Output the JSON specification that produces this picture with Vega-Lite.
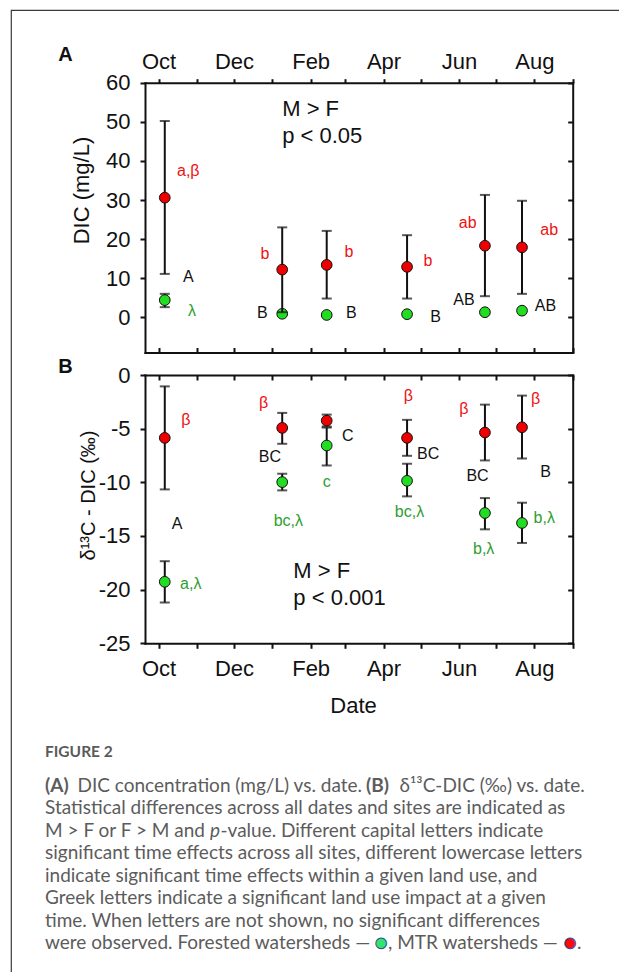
{
  "$schema": "https://vega.github.io/schema/vega-lite/v6.json",
  "width": 608,
  "height": 962,
  "autosize": {"type": "none"},
  "padding": {"left": 11, "top": 10, "right": 0, "bottom": 0},
  "background": "white",
  "view": {"stroke": "#3a3a3a", "strokeWidth": 1.2, "strokeDash": [608, 1570, 962], "fill": null},
  "config": {
    "view": {"stroke": "#3a3a3a", "strokeWidth": 1.2, "strokeDash": [608, 1570, 962]},
    "axis": {
      "grid": false,
      "labelFont": "Liberation Sans",
      "titleFont": "Liberation Sans",
      "labelColor": "#111",
      "titleColor": "#111",
      "domainColor": "#111",
      "tickColor": "#111",
      "domainWidth": 2,
      "tickWidth": 2,
      "domainCap": "square",
      "labelOverlap": false,
      "labelFlush": false,
      "labelBound": false,
      "labelFontSize": 22,
      "titleFontSize": 22,
      "titleFontWeight": "normal"
    },
    "text": {"font": "Liberation Sans"}
  },
  "datasets": {
    "dic": [
      {"date": "2013-10-06", "site": "MTR", "mean": 30.6, "lo": 11.1, "hi": 50.2},
      {"date": "2013-10-06", "site": "Forested", "mean": 4.4, "lo": 2.6, "hi": 6.0},
      {"date": "2014-01-09", "site": "MTR", "mean": 12.2, "lo": 1.3, "hi": 23.0},
      {"date": "2014-01-09", "site": "Forested", "mean": 0.9, "lo": 0.6, "hi": 1.2},
      {"date": "2014-02-14", "site": "MTR", "mean": 13.4, "lo": 4.8, "hi": 22.1},
      {"date": "2014-02-14", "site": "Forested", "mean": 0.6, "lo": 0.3, "hi": 0.9},
      {"date": "2014-04-20", "site": "MTR", "mean": 12.9, "lo": 4.8, "hi": 21.0},
      {"date": "2014-04-20", "site": "Forested", "mean": 0.8, "lo": 0.5, "hi": 1.1},
      {"date": "2014-06-22", "site": "MTR", "mean": 18.3, "lo": 5.4, "hi": 31.3},
      {"date": "2014-06-22", "site": "Forested", "mean": 1.3, "lo": 1.0, "hi": 1.6},
      {"date": "2014-07-22", "site": "MTR", "mean": 17.9, "lo": 6.0, "hi": 29.8},
      {"date": "2014-07-22", "site": "Forested", "mean": 1.7, "lo": 1.4, "hi": 2.0}
    ],
    "d13c": [
      {"date": "2013-10-06", "site": "MTR", "mean": -5.86, "lo": -10.66, "hi": -1.06},
      {"date": "2013-10-06", "site": "Forested", "mean": -19.27, "lo": -21.2, "hi": -17.35},
      {"date": "2014-01-09", "site": "MTR", "mean": -4.93, "lo": -6.41, "hi": -3.53},
      {"date": "2014-01-09", "site": "Forested", "mean": -9.98, "lo": -10.75, "hi": -9.2},
      {"date": "2014-02-14", "site": "MTR", "mean": -4.25, "lo": -4.8, "hi": -3.69},
      {"date": "2014-02-14", "site": "Forested", "mean": -6.57, "lo": -8.43, "hi": -4.9},
      {"date": "2014-04-20", "site": "MTR", "mean": -5.86, "lo": -7.53, "hi": -4.18},
      {"date": "2014-04-20", "site": "Forested", "mean": -9.86, "lo": -11.31, "hi": -8.27},
      {"date": "2014-06-22", "site": "MTR", "mean": -5.36, "lo": -7.96, "hi": -2.76},
      {"date": "2014-06-22", "site": "Forested", "mean": -12.86, "lo": -14.38, "hi": -11.47},
      {"date": "2014-07-22", "site": "MTR", "mean": -4.87, "lo": -7.78, "hi": -1.92},
      {"date": "2014-07-22", "site": "Forested", "mean": -13.79, "lo": -15.65, "hi": -11.9}
    ],
    "dicLetters": [
      {"date": "2013-10-25", "v": 37.4, "label": "a,β", "site": "MTR"},
      {"date": "2013-10-25", "v": 10.2, "label": "A", "site": "All"},
      {"date": "2013-10-28", "v": 1.5, "label": "λ", "site": "Forested"},
      {"date": "2013-12-26", "v": 16.2, "label": "b", "site": "MTR"},
      {"date": "2013-12-24", "v": 1.0, "label": "B", "site": "All"},
      {"date": "2014-03-04", "v": 16.6, "label": "b", "site": "MTR"},
      {"date": "2014-03-06", "v": 1.0, "label": "B", "site": "All"},
      {"date": "2014-05-07", "v": 14.5, "label": "b", "site": "MTR"},
      {"date": "2014-05-13", "v": 0.2, "label": "B", "site": "All"},
      {"date": "2014-06-08", "v": 24.1, "label": "ab", "site": "MTR"},
      {"date": "2014-06-05", "v": 4.3, "label": "AB", "site": "All"},
      {"date": "2014-08-13", "v": 22.4, "label": "ab", "site": "MTR"},
      {"date": "2014-08-10", "v": 3.0, "label": "AB", "site": "All"}
    ],
    "d13cLetters": [
      {"date": "2013-10-23", "v": -4.2, "label": "β", "site": "MTR"},
      {"date": "2013-10-16", "v": -13.9, "label": "A", "site": "All"},
      {"date": "2013-10-27", "v": -19.5, "label": "a,λ", "site": "Forested"},
      {"date": "2013-12-25", "v": -2.6, "label": "β", "site": "MTR"},
      {"date": "2013-12-30", "v": -7.6, "label": "BC", "site": "All"},
      {"date": "2014-01-14", "v": -13.6, "label": "bc,λ", "site": "Forested"},
      {"date": "2014-03-03", "v": -5.7, "label": "C", "site": "All"},
      {"date": "2014-02-14", "v": -10.0, "label": "c", "site": "Forested"},
      {"date": "2014-04-21", "v": -2.0, "label": "β", "site": "MTR"},
      {"date": "2014-05-07", "v": -7.4, "label": "BC", "site": "All"},
      {"date": "2014-04-22", "v": -12.8, "label": "bc,λ", "site": "Forested"},
      {"date": "2014-06-05", "v": -3.2, "label": "β", "site": "MTR"},
      {"date": "2014-06-16", "v": -9.45, "label": "BC", "site": "All"},
      {"date": "2014-06-21", "v": -16.2, "label": "b,λ", "site": "Forested"},
      {"date": "2014-08-02", "v": -2.2, "label": "β", "site": "MTR"},
      {"date": "2014-08-10", "v": -9.05, "label": "B", "site": "All"},
      {"date": "2014-08-09", "v": -13.3, "label": "b,λ", "site": "Forested"}
    ],
    "dicStats": [
      {"date": "2014-01-09", "v": 53.2, "text": "M > F"},
      {"date": "2014-01-09", "v": 46.4, "text": "p < 0.05"}
    ],
    "d13cStats": [
      {"date": "2014-01-18", "v": -18.3, "text": "M > F"},
      {"date": "2014-01-18", "v": -20.8, "text": "p < 0.001"}
    ]
  },
  "resolve": {"scale": {"x": "independent", "y": "independent"}},
  "layer": [
    {
      "resolve": {"axis": {"x": "independent", "y": "independent"}},
      "layer": [
        {
          "data": {"name": "dic"},
          "transform": [{"filter": "datum.site === 'Forested'"}],
          "mark": {"type": "rule", "strokeWidth": 2, "color": "#111"},
          "encoding": {
            "x": {
              "field": "date", "type": "temporal",
              "scale": {"type": "utc", "domain": [{"year": 2013, "month": 9, "date": 20, "utc": true}, {"year": 2014, "month": 9, "date": 1, "utc": true}], "range": [134, 561.7], "nice": false},
              "axis": {
                "orient": "top", "offset": -72.7,
                "tickCount": {"interval": "month", "step": 1},
                "labelExpr": "utcmonth(datum.value) % 2 == 1 ? utcFormat(datum.value, '%b') : ''",
                "tickSize": 4, "labelPadding": 17, "labelBaseline": "middle",
                "title": "A", "titleX": 54, "titleY": -27.7, "titleAngle": 0,
                "titleAlign": "center", "titleBaseline": "middle",
                "titleFontSize": 20, "titleFontWeight": "bold"
              }
            },
            "y": {
              "field": "lo", "type": "quantitative",
              "scale": {"domain": [-9, 60], "range": [342.5, 72.7], "nice": false, "zero": false},
              "axis": {
                "orient": "left", "offset": -134,
                "values": [0, 10, 20, 30, 40, 50, 60],
                "labelExpr": "'' + datum.value",
                "tickSize": 5, "labelPadding": 10, "labelBaseline": "middle",
                "title": "DIC (mg/L)", "titleX": -64, "titleY": 180, "titleAngle": -90,
                "titleAlign": "center", "titleBaseline": "middle"
              }
            },
            "y2": {"field": "hi"}
          }
        },
        {
          "data": {"name": "dic"},
          "transform": [{"filter": "datum.site === 'Forested'"}, {"fold": ["lo", "hi"], "as": ["end", "value"]}],
          "mark": {"type": "tick", "orient": "horizontal", "size": 10, "thickness": 2, "color": "#111"},
          "encoding": {
            "x": {
              "field": "date", "type": "temporal",
              "axis": {
                "orient": "bottom", "offset": -619.5,
                "tickCount": {"interval": "month", "step": 1},
                "labels": false, "tickSize": -5, "title": null
              }
            },
            "y": {
              "field": "value", "type": "quantitative",
              "axis": {
                "orient": "right", "offset": -46.3,
                "values": [0, 10, 20, 30, 40, 50, 60],
                "labels": false, "tickSize": -5, "title": null
              }
            }
          }
        },
        {
          "data": {"name": "dic"},
          "transform": [{"filter": "datum.site === 'Forested'"}],
          "mark": {"type": "circle", "size": 115, "color": "#22dd22", "stroke": "#111", "strokeWidth": 1, "opacity": 1},
          "encoding": {
            "x": {"field": "date", "type": "temporal", "axis": null},
            "y": {"field": "mean", "type": "quantitative", "axis": null}
          }
        },
        {
          "data": {"name": "dic"},
          "transform": [{"filter": "datum.site === 'MTR'"}],
          "mark": {"type": "rule", "strokeWidth": 2, "color": "#111"},
          "encoding": {
            "x": {"field": "date", "type": "temporal", "axis": null},
            "y": {"field": "lo", "type": "quantitative", "axis": null},
            "y2": {"field": "hi"}
          }
        },
        {
          "data": {"name": "dic"},
          "transform": [{"filter": "datum.site === 'MTR'"}, {"fold": ["lo", "hi"], "as": ["end", "value"]}],
          "mark": {"type": "tick", "orient": "horizontal", "size": 10, "thickness": 2, "color": "#111"},
          "encoding": {
            "x": {"field": "date", "type": "temporal", "axis": null},
            "y": {"field": "value", "type": "quantitative", "axis": null}
          }
        },
        {
          "data": {"name": "dic"},
          "transform": [{"filter": "datum.site === 'MTR'"}],
          "mark": {"type": "circle", "size": 115, "color": "#ee0000", "stroke": "#111", "strokeWidth": 1, "opacity": 1},
          "encoding": {
            "x": {"field": "date", "type": "temporal", "axis": null},
            "y": {"field": "mean", "type": "quantitative", "axis": null}
          }
        },
        {
          "data": {"name": "dicLetters"},
          "mark": {"type": "text", "fontSize": 16, "align": "center", "baseline": "middle"},
          "encoding": {
            "x": {"field": "date", "type": "temporal", "axis": null},
            "y": {"field": "v", "type": "quantitative", "axis": null},
            "text": {"field": "label"},
            "color": {"field": "site", "type": "nominal", "scale": {"domain": ["MTR", "Forested", "All"], "range": ["#ee1111", "#2f9e2f", "#111111"]}, "legend": null}
          }
        },
        {
          "data": {"name": "dicStats"},
          "mark": {"type": "text", "fontSize": 22, "align": "left", "baseline": "middle", "color": "#111"},
          "encoding": {
            "x": {"field": "date", "type": "temporal", "axis": null},
            "y": {"field": "v", "type": "quantitative", "axis": null},
            "text": {"field": "text"}
          }
        }
      ]
    },
    {
      "resolve": {"axis": {"x": "independent", "y": "independent"}},
      "layer": [
        {
          "data": {"name": "d13c"},
          "transform": [{"filter": "datum.site === 'Forested'"}],
          "mark": {"type": "rule", "strokeWidth": 2, "color": "#111"},
          "encoding": {
            "x": {
              "field": "date", "type": "temporal",
              "scale": {"type": "utc", "domain": [{"year": 2013, "month": 9, "date": 20, "utc": true}, {"year": 2014, "month": 9, "date": 1, "utc": true}], "range": [134, 561.7], "nice": false},
              "axis": {
                "orient": "bottom", "offset": -328.7,
                "tickCount": {"interval": "month", "step": 1},
                "labelExpr": "utcmonth(datum.value) % 2 == 1 ? utcFormat(datum.value, '%b') : ''",
                "tickSize": 5, "labelPadding": 20, "labelBaseline": "middle",
                "title": "Date", "titleX": 342, "titleY": 61.7,
                "titleAlign": "center", "titleBaseline": "middle"
              }
            },
            "y": {
              "field": "lo", "type": "quantitative",
              "scale": {"domain": [-25, 0], "range": [633.3, 365], "nice": false, "zero": false},
              "axis": {
                "orient": "left", "offset": -134,
                "values": [-25, -20, -15, -10, -5, 0],
                "labelExpr": "'' + datum.value",
                "tickSize": 5, "labelPadding": 10, "labelBaseline": "middle",
                "title": "δ¹³C - DIC (‰)", "titleX": -57, "titleY": 485, "titleAngle": -90,
                "titleAlign": "center", "titleBaseline": "middle", "titleFontSize": 20
              }
            },
            "y2": {"field": "hi"}
          }
        },
        {
          "data": {"name": "d13c"},
          "transform": [{"filter": "datum.site === 'Forested'"}, {"fold": ["lo", "hi"], "as": ["end", "value"]}],
          "mark": {"type": "tick", "orient": "horizontal", "size": 10, "thickness": 2, "color": "#111"},
          "encoding": {
            "x": {
              "field": "date", "type": "temporal",
              "axis": {
                "orient": "top", "offset": -365,
                "tickCount": {"interval": "month", "step": 1},
                "labels": false, "tickSize": -5,
                "title": "B", "titleX": 54, "titleY": -9, "titleAngle": 0,
                "titleAlign": "center", "titleBaseline": "middle",
                "titleFontSize": 20, "titleFontWeight": "bold"
              }
            },
            "y": {
              "field": "value", "type": "quantitative",
              "axis": {
                "orient": "right", "offset": -46.3,
                "values": [-25, -20, -15, -10, -5, 0],
                "labels": false, "tickSize": -5, "title": null
              }
            }
          }
        },
        {
          "data": {"name": "d13c"},
          "transform": [{"filter": "datum.site === 'Forested'"}],
          "mark": {"type": "circle", "size": 115, "color": "#22dd22", "stroke": "#111", "strokeWidth": 1, "opacity": 1},
          "encoding": {
            "x": {"field": "date", "type": "temporal", "axis": null},
            "y": {"field": "mean", "type": "quantitative", "axis": null}
          }
        },
        {
          "data": {"name": "d13c"},
          "transform": [{"filter": "datum.site === 'MTR'"}],
          "mark": {"type": "rule", "strokeWidth": 2, "color": "#111"},
          "encoding": {
            "x": {"field": "date", "type": "temporal", "axis": null},
            "y": {"field": "lo", "type": "quantitative", "axis": null},
            "y2": {"field": "hi"}
          }
        },
        {
          "data": {"name": "d13c"},
          "transform": [{"filter": "datum.site === 'MTR'"}, {"fold": ["lo", "hi"], "as": ["end", "value"]}],
          "mark": {"type": "tick", "orient": "horizontal", "size": 10, "thickness": 2, "color": "#111"},
          "encoding": {
            "x": {"field": "date", "type": "temporal", "axis": null},
            "y": {"field": "value", "type": "quantitative", "axis": null}
          }
        },
        {
          "data": {"name": "d13c"},
          "transform": [{"filter": "datum.site === 'MTR'"}],
          "mark": {"type": "circle", "size": 115, "color": "#ee0000", "stroke": "#111", "strokeWidth": 1, "opacity": 1},
          "encoding": {
            "x": {"field": "date", "type": "temporal", "axis": null},
            "y": {"field": "mean", "type": "quantitative", "axis": null}
          }
        },
        {
          "data": {"name": "d13cLetters"},
          "mark": {"type": "text", "fontSize": 16, "align": "center", "baseline": "middle"},
          "encoding": {
            "x": {"field": "date", "type": "temporal", "axis": null},
            "y": {"field": "v", "type": "quantitative", "axis": null},
            "text": {"field": "label"},
            "color": {"field": "site", "type": "nominal", "scale": {"domain": ["MTR", "Forested", "All"], "range": ["#ee1111", "#2f9e2f", "#111111"]}, "legend": null}
          }
        },
        {
          "data": {"name": "d13cStats"},
          "mark": {"type": "text", "fontSize": 22, "align": "left", "baseline": "middle", "color": "#111"},
          "encoding": {
            "x": {"field": "date", "type": "temporal", "axis": null},
            "y": {"field": "v", "type": "quantitative", "axis": null},
            "text": {"field": "text"}
          }
        }
      ]
    },
    {
      "encoding": {
        "x": {"datum": 0, "type": "quantitative", "scale": {"domain": [0, 1], "range": [34, 607]}, "axis": null},
        "y": {"field": "line", "type": "quantitative", "scale": {"domain": [1, 8], "range": [776, 933]}, "axis": null},
        "text": {"field": "text"}
      },
      "layer": [
        {
          "data": {"values": [{"line": 0, "text": "FIGURE 2"}]},
          "mark": {"type": "text", "font": "Lato", "fontSize": 15.5, "fontWeight": "bold", "color": "#5a5a5a", "align": "left", "baseline": "middle", "dy": -11.6}
        },
        {
          "data": {"values": [
            {"line": 2, "text": "Statistical differences across all dates and sites are indicated as"},
            {"line": 3, "text": "M > F or F > M and"},
            {"line": 4, "text": "significant time effects across all sites, different lowercase letters"},
            {"line": 5, "text": "indicate significant time effects within a given land use, and"},
            {"line": 6, "text": "Greek letters indicate a significant land use impact at a given"},
            {"line": 7, "text": "time. When letters are not shown, no significant differences"},
            {"line": 8, "text": "were observed. Forested watersheds —"}
          ]},
          "mark": {"type": "text", "font": "Lato", "fontSize": 19, "color": "#5c5c5c", "align": "left", "baseline": "middle"}
        },
        {
          "data": {"values": [{"line": 1, "text": "(A)"}]},
          "mark": {"type": "text", "font": "Lato", "fontSize": 19, "fontWeight": "bold", "color": "#5c5c5c", "align": "left", "baseline": "middle"}
        },
        {
          "data": {"values": [{"line": 1, "text": "DIC concentration (mg/L) vs. date."}]},
          "mark": {"type": "text", "font": "Lato", "fontSize": 19, "color": "#5c5c5c", "align": "left", "baseline": "middle", "dx": 32.5}
        },
        {
          "data": {"values": [{"line": 1, "text": "(B)"}]},
          "mark": {"type": "text", "font": "Lato", "fontSize": 19, "fontWeight": "bold", "color": "#5c5c5c", "align": "left", "baseline": "middle", "dx": 321}
        },
        {
          "data": {"values": [{"line": 1, "text": "δ¹³C-DIC (‰) vs. date."}]},
          "mark": {"type": "text", "font": "Lato", "fontSize": 19, "color": "#5c5c5c", "align": "left", "baseline": "middle", "dx": 354.5}
        },
        {
          "data": {"values": [{"line": 3, "text": "p"}]},
          "mark": {"type": "text", "font": "Lato", "fontSize": 19, "fontStyle": "italic", "color": "#5c5c5c", "align": "left", "baseline": "middle", "dx": 165}
        },
        {
          "data": {"values": [{"line": 3, "text": "-value. Different capital letters indicate"}]},
          "mark": {"type": "text", "font": "Lato", "fontSize": 19, "color": "#5c5c5c", "align": "left", "baseline": "middle", "dx": 175.5}
        },
        {
          "data": {"values": [{"line": 8, "text": "●"}]},
          "mark": {"type": "text", "font": "DejaVu Sans", "fontSize": 14, "color": "#33e36a", "stroke": "#2d4e9e", "strokeWidth": 1, "align": "center", "baseline": "middle", "dx": 336}
        },
        {
          "data": {"values": [{"line": 8, "text": ", MTR watersheds —"}]},
          "mark": {"type": "text", "font": "Lato", "fontSize": 19, "color": "#5c5c5c", "align": "left", "baseline": "middle", "dx": 343}
        },
        {
          "data": {"values": [{"line": 8, "text": "●"}]},
          "mark": {"type": "text", "font": "DejaVu Sans", "fontSize": 14, "color": "#ff0a0a", "stroke": "#2d4e9e", "strokeWidth": 1, "align": "center", "baseline": "middle", "dx": 525}
        },
        {
          "data": {"values": [{"line": 8, "text": "."}]},
          "mark": {"type": "text", "font": "Lato", "fontSize": 19, "color": "#5c5c5c", "align": "left", "baseline": "middle", "dx": 532}
        }
      ]
    }
  ]
}
